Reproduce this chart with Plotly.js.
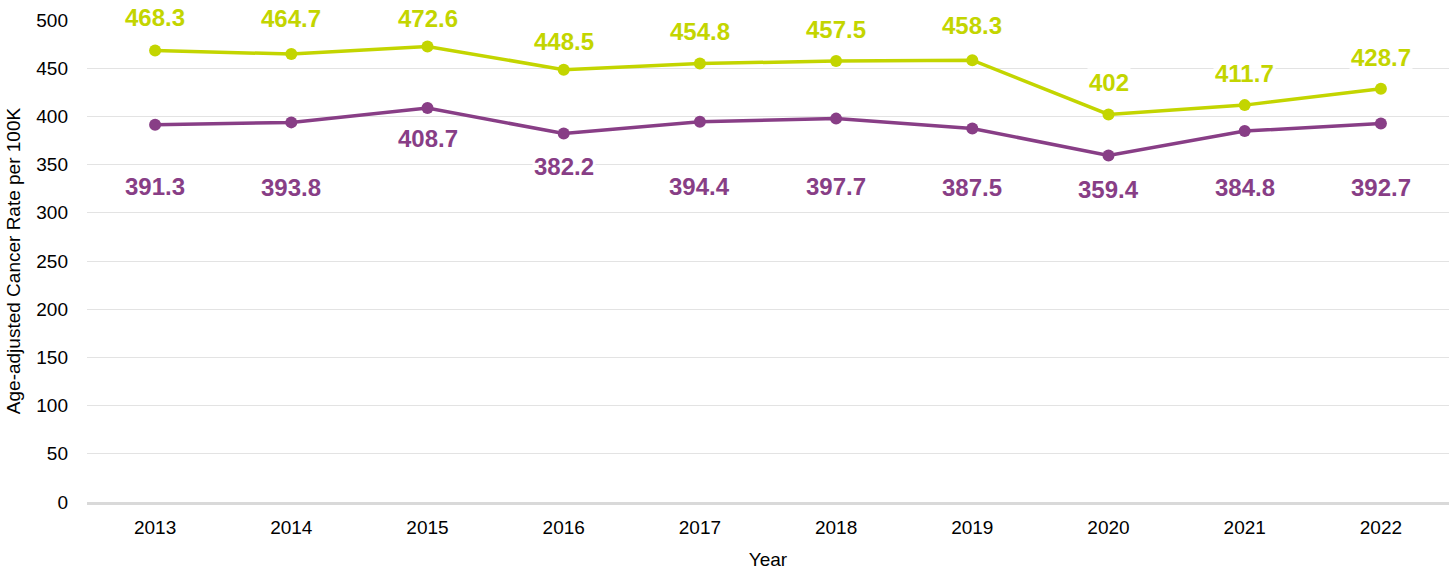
<!DOCTYPE html>
<html>
<head>
<meta charset="utf-8">
<script src="https://cdn.plot.ly/plotly-3.0.1.min.js"></script>
<style>html,body{margin:0;padding:0;background:#fff;}#chart{width:1453px;height:573px;}</style>
</head>
<body>
<div id="chart"></div>
<script>
// ---- data ----
const years = ["2013","2014","2015","2016","2017","2018","2019","2020","2021","2022"];
const seriesUpper = [468.3, 464.7, 472.6, 448.5, 454.8, 457.5, 458.3, 402, 411.7, 428.7];
const seriesLower = [391.3, 393.8, 408.7, 382.2, 394.4, 397.7, 387.5, 359.4, 384.8, 392.7];
const yTicks = [0, 50, 100, 150, 200, 250, 300, 350, 400, 450, 500];

// ---- styles / label placement (pixels) ----
const upperColor = "#c3d500";
const lowerColor = "#883e86";
const upperLabelShift = [33, 36, 28, 28, 32, 31, 35, 32, 32, 31];
const lowerLabelShift = [-62, -65, -30, -33, -65, -68, -59, -34, -56, -64];

const traces = [
  {x: years, y: seriesUpper, type: "scatter", mode: "lines+markers", name: "Upper",
   line: {color: upperColor, width: 3.5}, marker: {color: upperColor, size: 12}, cliponaxis: false},
  {x: years, y: seriesLower, type: "scatter", mode: "lines+markers", name: "Lower",
   line: {color: lowerColor, width: 3.5}, marker: {color: lowerColor, size: 12}, cliponaxis: false}
];

const annotations = [];
function addLabels(vals, shifts, color) {
  for (let i = 0; i < vals.length; i++) {
    annotations.push({
      x: i, y: vals[i], xref: "x", yref: "y",
      text: "<b>" + vals[i] + "</b>", showarrow: false,
      yshift: shifts[i], yanchor: "middle", xanchor: "center",
      font: {family: "Liberation Sans, Arial, sans-serif", size: 24, color: color},
      bgcolor: "rgba(255,255,255,0.85)", borderpad: 1
    });
  }
}
addLabels(seriesUpper, upperLabelShift, upperColor);
addLabels(seriesLower, lowerLabelShift, lowerColor);

const layout = {
  width: 1453, height: 573,
  margin: {l: 87, r: 4, t: 20, b: 71},
  paper_bgcolor: "#fff", plot_bgcolor: "#fff",
  showlegend: false,
  font: {family: "Liberation Sans, Arial, sans-serif", size: 19, color: "#000"},
  xaxis: {type: "category", range: [-0.5, 9.5], showgrid: false, zeroline: false,
    showline: true, linecolor: "#d9d9d9", linewidth: 3, ticks: "", ticklabelstandoff: 6,
    tickfont: {size: 19},
    title: {text: "Year", font: {size: 19}, standoff: 16}},
  yaxis: {range: [0, 500], tickvals: yTicks, showgrid: true, gridcolor: "#e3e3e3", gridwidth: 1,
    zeroline: false, showline: false, ticks: "", ticklabelstandoff: 18, tickfont: {size: 19},
    title: {text: "Age-adjusted Cancer Rate per 100K", font: {size: 19}, standoff: 10}},
  annotations: annotations
};

Plotly.newPlot("chart", traces, layout, {displayModeBar: false, staticPlot: true});
</script>
</body>
</html>
